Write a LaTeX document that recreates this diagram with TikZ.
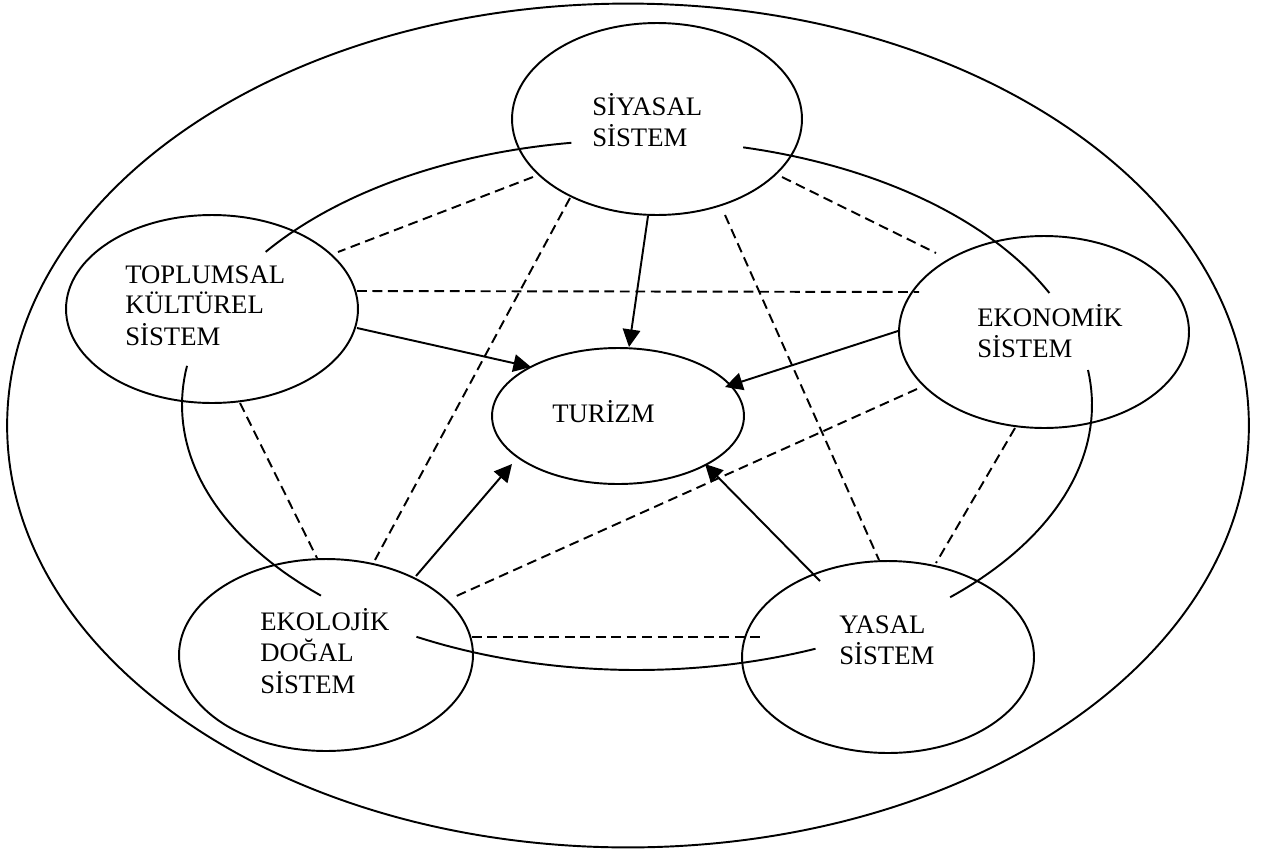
\documentclass[tikz,border=0pt]{standalone}
\usepackage{fontspec}
\setmainfont{Liberation Serif}
\usetikzlibrary{shapes.geometric,arrows.meta}
\begin{document}
\begin{tikzpicture}[x=0.02cm,y=-0.02cm,
  sys/.style={ellipse, draw, line width=1.1pt, inner sep=0pt, outer sep=0pt},
  lbl/.style={anchor=base west, inner sep=0pt, font=\fontsize{15.2}{17.6}\selectfont},
  dlink/.style={line width=1.1pt, dash pattern=on 5.6pt off 3.2pt},
  toT/.style={line width=1.1pt, -{Triangle[length=10pt,width=10pt]}},
  ringarc/.style={line width=1.1pt}]
\useasboundingbox (0,0) rectangle (1267,852);

% outer boundary
\node[sys, minimum width=24.84cm, minimum height=16.88cm] (outer) at (628,425.5) {};

% system ellipses
\node[sys, minimum width=5.80cm, minimum height=3.84cm] (sy) at (657,119) {};
\node[sys, minimum width=5.84cm, minimum height=3.76cm] (tk) at (212,309) {};
\node[sys, minimum width=5.80cm, minimum height=3.84cm] (ek) at (1044,332) {};
\node[sys, minimum width=5.04cm, minimum height=2.72cm] (tu) at (618,416) {};
\node[sys, minimum width=5.88cm, minimum height=3.84cm] (eo) at (326,655) {};
\node[sys, minimum width=5.84cm, minimum height=3.84cm] (ya) at (888,657) {};

% labels
\node[lbl] (syt) at (592,115) {\begin{tabular}[t]{@{}l@{}}SİYASAL\\SİSTEM\end{tabular}};
\node[lbl] (tkt) at (125,283) {\begin{tabular}[t]{@{}l@{}}TOPLUMSAL\\KÜLTÜREL\\SİSTEM\end{tabular}};
\node[lbl] (ekt) at (977,326) {\begin{tabular}[t]{@{}l@{}}EKONOMİK\\SİSTEM\end{tabular}};
\node[lbl] (tut) at (552,422) {TURİZM};
\node[lbl] (eot) at (260,630) {\begin{tabular}[t]{@{}l@{}}EKOLOJİK\\DOĞAL\\SİSTEM\end{tabular}};
\node[lbl] (yat) at (839,633) {\begin{tabular}[t]{@{}l@{}}YASAL\\SİSTEM\end{tabular}};

% ring of solid arcs linking the systems
\coordinate (ring) at (637,405);
\draw[ringarc] plot[domain=-98.3:-144.7, samples=40, variable=\t] ({637+455*cos(\t)},{405+265*sin(\t)});
\draw[ringarc] plot[domain=188.5:134.0, samples=40, variable=\t] ({637+455*cos(\t)},{405+265*sin(\t)});
\draw[ringarc] plot[domain=119.0:66.9, samples=40, variable=\t] ({637+455*cos(\t)},{405+265*sin(\t)});
\draw[ringarc] plot[domain=46.5:-7.6, samples=40, variable=\t] ({637+455*cos(\t)},{405+265*sin(\t)});
\draw[ringarc] plot[domain=-25.0:-76.5, samples=40, variable=\t] ({637+455*cos(\t)},{405+265*sin(\t)});

% arrows into TURIZM
\draw[toT] ([shift={(-9,97)}]sy.center) -- ([shift={(11,-69)}]tu.center);
\draw[toT] ([shift={(145,19)}]tk.center) -- ([shift={(-87,-49)}]tu.center);
\draw[toT] ([shift={(-146,-1)}]ek.center) -- ([shift={(107,-29)}]tu.center);
\draw[toT] ([shift={(90,-79)}]eo.center) -- ([shift={(-106,48)}]tu.center);
\draw[toT] ([shift={(-68,-76)}]ya.center) -- ([shift={(87,48)}]tu.center);

% dashed interrelations
\draw[dlink] ([shift={(-124,58)}]sy.center) -- ([shift={(126,-57)}]tk.center);
\draw[dlink] ([shift={(125,58)}]sy.center) -- ([shift={(-108,-79)}]ek.center);
\draw[dlink] ([shift={(-87,79)}]sy.center) -- ([shift={(49,-95)}]eo.center);
\draw[dlink] ([shift={(68,96)}]sy.center) -- ([shift={(-9,-97)}]ya.center);
\draw[dlink] ([shift={(145,-18)}]tk.center) -- ([shift={(-125,-40)}]ek.center);
\draw[dlink] ([shift={(28,94)}]tk.center) -- ([shift={(-9,-97)}]eo.center);
\draw[dlink] ([shift={(-127,57)}]ek.center) -- ([shift={(126,-57)}]eo.center);
\draw[dlink] ([shift={(-29,96)}]ek.center) -- ([shift={(48,-94)}]ya.center);
\draw[dlink] ([shift={(146,-18)}]eo.center) -- ([shift={(-125,-20)}]ya.center);
\end{tikzpicture}
\end{document}
